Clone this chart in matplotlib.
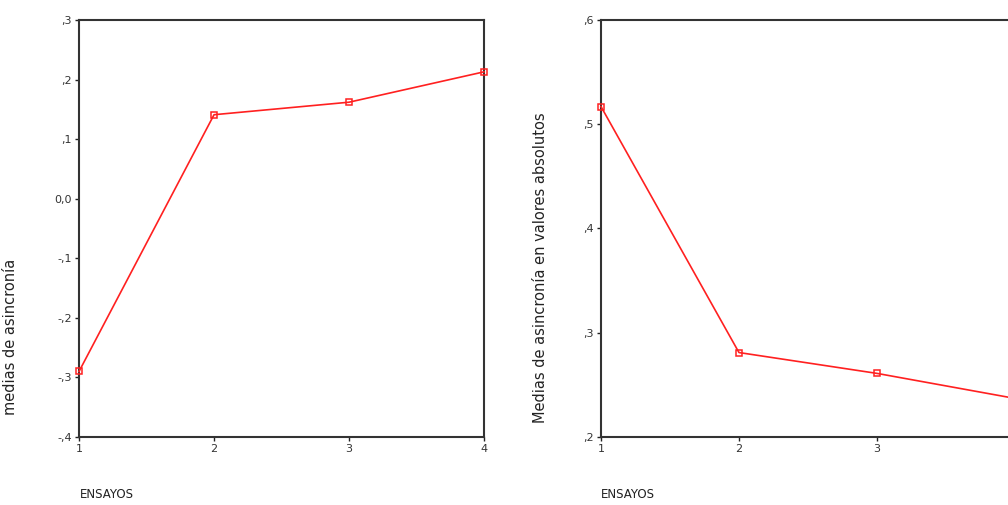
import matplotlib.pyplot as plt

ensayos = [1, 2, 3, 4]
medias = [-0.29, 0.141, 0.162, 0.213]
medias_abs = [0.517, 0.281, 0.261, 0.237]

left_ticks = [0.3, 0.2, 0.1, 0.0, -0.1, -0.2, -0.3, -0.4]
left_labels = [',3', ',2', ',1', '0,0', '-,1', '-,2', '-,3', '-,4']
right_ticks = [0.6, 0.5, 0.4, 0.3, 0.2]
right_labels = [',6', ',5', ',4', ',3', ',2']

plt.rcParams['font.family'] = 'DejaVu Sans'

fig = plt.figure(figsize=(10.08, 5.05), dpi=100)
ax1 = fig.add_axes([0.0784, 0.1347, 0.4018, 0.8257])
ax2 = fig.add_axes([0.5962, 0.1347, 0.4107, 0.8257])


def style(ax, data, xt, yticks, ylabels, ylim, ylabel, labx, laby):
    ax.plot(ensayos, data, color='#ff2020', lw=1.2, marker='s', ms=5,
            mfc='none', mec='#ff2020', mew=1.1, clip_on=False, zorder=3)
    ax.set_xlim(1, 4)
    ax.set_ylim(*ylim)
    ax.set_xticks(xt)
    ax.set_xticklabels([str(e) for e in xt], fontsize=8, color='#333333')
    ax.set_yticks(yticks)
    ax.set_yticklabels(ylabels, fontsize=8, color='#333333')
    ax.tick_params(length=3, width=1, color='#222222', pad=2)
    for s in ax.spines.values():
        s.set_linewidth(1.5)
        s.set_color('#333333')
    ax.set_ylabel(ylabel, fontsize=10.5, color='#222222')
    ax.yaxis.set_label_coords(labx, laby)


style(ax1, medias, ensayos, left_ticks, left_labels, (-0.4, 0.3),
      'medias de asincronía', -0.15, 0.24)
# the 4th tick of the right panel falls outside the picture
style(ax2, medias_abs, ensayos[:3], right_ticks, right_labels, (0.2, 0.6),
      'Medias de asincronía en valores absolutos', -0.128, 0.405)

fig.text(80 / 1008, 1 - 494 / 505, 'ENSAYOS', fontsize=8.5, color='#222222',
         va='center', ha='left')
fig.text(601 / 1008, 1 - 494 / 505, 'ENSAYOS', fontsize=8.5, color='#222222',
         va='center', ha='left')

fig.savefig('out.png', dpi=100)
